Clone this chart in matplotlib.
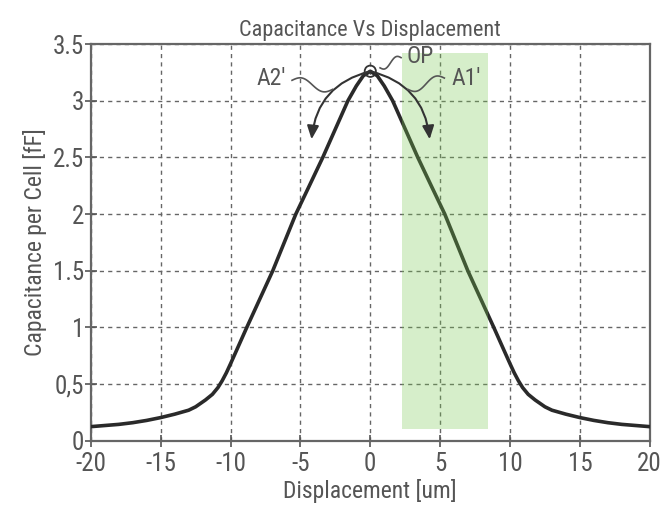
import numpy as np
import matplotlib
matplotlib.use("Agg")
import matplotlib.pyplot as plt
from matplotlib import font_manager
from matplotlib.patches import FancyArrowPatch, Rectangle, Ellipse

names = {f.name for f in font_manager.fontManager.ttflist}
cands = ['Liberation Sans Narrow', 'DejaVu Sans Condensed', 'Roboto Condensed', 'Open Sans Condensed']
found = [c for c in cands if c in names]
plt.rcParams['font.family'] = found + ['DejaVu Sans']
plt.rcParams['axes.unicode_minus'] = False
narrow = bool(found)

# data (symmetric capacitance curve)
half_x = [0, 0.5, 1, 1.6, 2.5, 3.4, 4.4, 5.33, 6.98, 8.84, 9.6, 10.0, 10.3, 10.6, 10.9,
          11.3, 11.8, 12.5, 13, 14, 15, 16, 17, 18, 19, 20]
half_y = [3.26, 3.22, 3.13, 3.0, 2.75, 2.5, 2.24, 2.0, 1.5, 1.0, 0.79, 0.68, 0.6, 0.53, 0.47,
          0.41, 0.36, 0.3, 0.27, 0.235, 0.205, 0.18, 0.16, 0.145, 0.135, 0.125]
disp = [-v for v in half_x[:0:-1]] + half_x
cap = half_y[:0:-1] + half_y

xticks = [-20, -15, -10, -5, 0, 5, 10, 15, 20]
yticks = [0, 0.5, 1, 1.5, 2, 2.5, 3, 3.5]
ytick_labels = ['0', '0,5', '1', '1.5', '2', '2.5', '3', '3.5']

band_x = [2.25, 8.4]
band_y = [0.1, 3.42]
op_point = (0, 3.26)

k = 1.0 if narrow else 0.85
fs_tick = 18 * k
fs_lab = 17 * k
fs_title = 16 * k
fs_ann = 17 * k
txt = '#555555'
fig = plt.figure(figsize=(6.63, 5.18), dpi=100)
ax = fig.add_axes([0.137, 0.149, 0.843, 0.766])

ax.plot(disp, cap, color='#2a2a2a', lw=2.6, zorder=3, solid_joinstyle='round')
ax.add_patch(Rectangle((band_x[0], band_y[0]), band_x[1] - band_x[0], band_y[1] - band_y[0],
                       facecolor=(120/255, 200/255, 80/255), alpha=0.3, lw=0, zorder=5))

ax.set_xlim(-20, 20)
ax.set_ylim(0, 3.5)
ax.set_xticks(xticks)
ax.set_yticks(yticks)
ax.set_yticklabels(ytick_labels)
ax.grid(True, color='#666666', ls=(0, (3, 3)), lw=1.0)
ax.tick_params(direction='inout', length=8, width=1.2, colors='#555555', labelsize=fs_tick,
               labelcolor=txt)
ax.tick_params(axis='x', pad=4)
ax.tick_params(axis='y', pad=1)
for s in ax.spines.values():
    s.set_color('#666666')
    s.set_linewidth(1.6)

ax.set_title('Capacitance Vs Displacement', fontsize=fs_title, color=txt, pad=6)
ax.set_xlabel('Displacement [um]', fontsize=fs_lab, color=txt, labelpad=2)
ax.set_ylabel('Capacitance per Cell [fF]', fontsize=fs_lab, color=txt, labelpad=4)

# OP marker
ax.add_patch(Ellipse(op_point, 0.8, 0.1, facecolor='none', edgecolor='#333333', lw=1.3, zorder=6))

# curved arrows
for end, rad in [((-4.2, 2.66), 0.35), ((4.25, 2.66), -0.35)]:
    ax.add_patch(FancyArrowPatch(op_point, end, connectionstyle=f'arc3,rad={rad}',
                                 arrowstyle='-|>,head_length=8,head_width=3.5',
                                 color='#333333', lw=1.5, zorder=6, shrinkA=0, shrinkB=0))

def wave(p0, p1, amp=0.04):
    t = np.linspace(0, 1, 60)
    x = p0[0] + (p1[0] - p0[0]) * t
    y = p0[1] + (p1[1] - p0[1]) * t + amp * np.sin(2 * np.pi * t)
    ax.plot(x, y, color='#555555', lw=1.2, zorder=6)

wave((-5.6, 3.18), (-2.7, 3.1))
wave((2.7, 3.1), (5.3, 3.2), amp=-0.04)
wave((0.7, 3.29), (2.2, 3.38), amp=-0.03)

ax.text(-7.1, 3.2, "A2'", fontsize=fs_ann, color=txt, ha='center', va='center', zorder=7)
ax.text(6.9, 3.2, "A1'", fontsize=fs_ann, color=txt, ha='center', va='center', zorder=7)
ax.text(3.6, 3.39, "OP", fontsize=fs_ann, color=txt, ha='center', va='center', zorder=7)

fig.savefig('out.png', dpi=100)
